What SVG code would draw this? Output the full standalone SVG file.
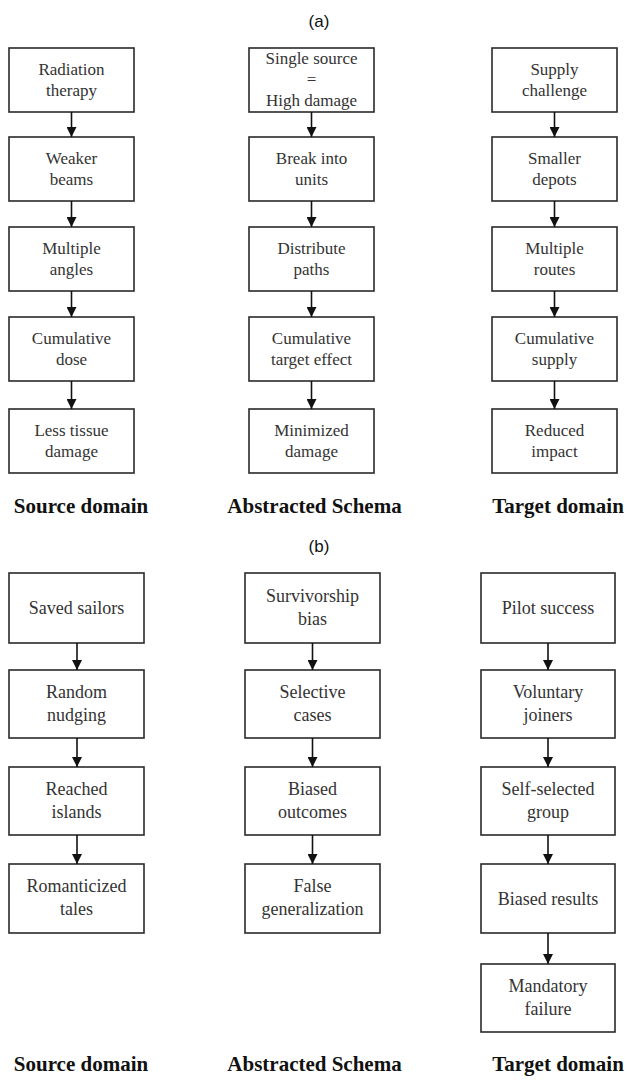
<svg xmlns="http://www.w3.org/2000/svg" width="630" height="1083" viewBox="0 0 630 1083">
<style>
.box{fill:#fff;stroke:#2a2a2a;stroke-width:1.6}
.t{font-family:"Liberation Serif","Times New Roman",serif;font-size:17px;fill:#333;text-anchor:middle}
.tb{font-family:"Liberation Serif","Times New Roman",serif;font-size:18px;fill:#333;text-anchor:middle}
.lab{font-family:"Liberation Serif","Times New Roman",serif;font-size:21px;font-weight:bold;fill:#111;text-anchor:middle}
.cap{font-family:"Liberation Sans",Arial,sans-serif;font-size:17px;fill:#111;text-anchor:middle}
.c{stroke:#111;stroke-width:1.6;fill:none;marker-end:url(#ah)}
</style>
<defs>
<marker id="ah" viewBox="0 0 10 10" refX="10" refY="5" markerWidth="10" markerHeight="10" orient="auto" markerUnits="userSpaceOnUse">
<path d="M0,0 L10,5 L0,10 z" fill="#111"/>
</marker>
</defs>
<rect width="630" height="1083" fill="#fff"/>
<text class="cap" x="319" y="27">(a)</text>
<text class="cap" x="319" y="552">(b)</text>

<g id="a-source">
<g id="a1"><rect class="box" x="9" y="48" width="125" height="64"/><text class="t" x="71.5" y="75">Radiation</text><text class="t" x="71.5" y="96">therapy</text></g>
<g id="a2"><rect class="box" x="9" y="137" width="125" height="64"/><text class="t" x="71.5" y="164">Weaker</text><text class="t" x="71.5" y="185">beams</text></g>
<g id="a3"><rect class="box" x="9" y="227" width="125" height="64"/><text class="t" x="71.5" y="254">Multiple</text><text class="t" x="71.5" y="275">angles</text></g>
<g id="a4"><rect class="box" x="9" y="317" width="125" height="64"/><text class="t" x="71.5" y="344">Cumulative</text><text class="t" x="71.5" y="365">dose</text></g>
<g id="a5"><rect class="box" x="9" y="409" width="125" height="64"/><text class="t" x="71.5" y="436">Less tissue</text><text class="t" x="71.5" y="457">damage</text></g>
</g>
<g id="a-schema">
<g id="a6"><rect class="box" x="249" y="48" width="125" height="64"/><text class="t" x="311.5" y="64">Single source</text><text class="t" x="311.5" y="85">=</text><text class="t" x="311.5" y="106">High damage</text></g>
<g id="a7"><rect class="box" x="249" y="137" width="125" height="64"/><text class="t" x="311.5" y="164">Break into</text><text class="t" x="311.5" y="185">units</text></g>
<g id="a8"><rect class="box" x="249" y="227" width="125" height="64"/><text class="t" x="311.5" y="254">Distribute</text><text class="t" x="311.5" y="275">paths</text></g>
<g id="a9"><rect class="box" x="249" y="317" width="125" height="64"/><text class="t" x="311.5" y="344">Cumulative</text><text class="t" x="311.5" y="365">target effect</text></g>
<g id="a10"><rect class="box" x="249" y="409" width="125" height="64"/><text class="t" x="311.5" y="436">Minimized</text><text class="t" x="311.5" y="457">damage</text></g>
</g>
<g id="a-target">
<g id="a11"><rect class="box" x="492" y="48" width="125" height="64"/><text class="t" x="554.5" y="75">Supply</text><text class="t" x="554.5" y="96">challenge</text></g>
<g id="a12"><rect class="box" x="492" y="137" width="125" height="64"/><text class="t" x="554.5" y="164">Smaller</text><text class="t" x="554.5" y="185">depots</text></g>
<g id="a13"><rect class="box" x="492" y="227" width="125" height="64"/><text class="t" x="554.5" y="254">Multiple</text><text class="t" x="554.5" y="275">routes</text></g>
<g id="a14"><rect class="box" x="492" y="317" width="125" height="64"/><text class="t" x="554.5" y="344">Cumulative</text><text class="t" x="554.5" y="365">supply</text></g>
<g id="a15"><rect class="box" x="492" y="409" width="125" height="64"/><text class="t" x="554.5" y="436">Reduced</text><text class="t" x="554.5" y="457">impact</text></g>
</g>
<g id="a-labels">
<text class="lab" x="81" y="513">Source domain</text>
<text class="lab" x="314.5" y="513">Abstracted Schema</text>
<text class="lab" x="558" y="513">Target domain</text>
</g>

<g id="b-source">
<g id="b1"><rect class="box" x="9" y="573" width="135" height="70"/><text class="tb" x="76.5" y="614">Saved sailors</text></g>
<g id="b2"><rect class="box" x="9" y="670" width="135" height="68"/><text class="tb" x="76.5" y="698">Random</text><text class="tb" x="76.5" y="721">nudging</text></g>
<g id="b3"><rect class="box" x="9" y="767" width="135" height="68"/><text class="tb" x="76.5" y="795">Reached</text><text class="tb" x="76.5" y="818">islands</text></g>
<g id="b4"><rect class="box" x="9" y="864" width="135" height="69"/><text class="tb" x="76.5" y="892">Romanticized</text><text class="tb" x="76.5" y="915">tales</text></g>
</g>
<g id="b-schema">
<g id="b5"><rect class="box" x="245" y="573" width="135" height="70"/><text class="tb" x="312.5" y="602">Survivorship</text><text class="tb" x="312.5" y="625">bias</text></g>
<g id="b6"><rect class="box" x="245" y="670" width="135" height="68"/><text class="tb" x="312.5" y="698">Selective</text><text class="tb" x="312.5" y="721">cases</text></g>
<g id="b7"><rect class="box" x="245" y="767" width="135" height="68"/><text class="tb" x="312.5" y="795">Biased</text><text class="tb" x="312.5" y="818">outcomes</text></g>
<g id="b8"><rect class="box" x="245" y="864" width="135" height="69"/><text class="tb" x="312.5" y="892">False</text><text class="tb" x="312.5" y="915">generalization</text></g>
</g>
<g id="b-target">
<g id="b9"><rect class="box" x="481" y="573" width="134" height="70"/><text class="tb" x="548" y="614">Pilot success</text></g>
<g id="b10"><rect class="box" x="481" y="670" width="134" height="68"/><text class="tb" x="548" y="698">Voluntary</text><text class="tb" x="548" y="721">joiners</text></g>
<g id="b11"><rect class="box" x="481" y="767" width="134" height="68"/><text class="tb" x="548" y="795">Self-selected</text><text class="tb" x="548" y="818">group</text></g>
<g id="b12"><rect class="box" x="481" y="864" width="134" height="69"/><text class="tb" x="548" y="905">Biased results</text></g>
<g id="b13"><rect class="box" x="481" y="964" width="134" height="68"/><text class="tb" x="548" y="992">Mandatory</text><text class="tb" x="548" y="1015">failure</text></g>
</g>
<g id="b-labels">
<text class="lab" x="81" y="1071">Source domain</text>
<text class="lab" x="314.5" y="1071">Abstracted Schema</text>
<text class="lab" x="558" y="1071">Target domain</text>
</g>

<g id="connectors">
<line class="c" x1="71.5" y1="112" x2="71.5" y2="137"/>
<line class="c" x1="71.5" y1="201" x2="71.5" y2="227"/>
<line class="c" x1="71.5" y1="291" x2="71.5" y2="317"/>
<line class="c" x1="71.5" y1="381" x2="71.5" y2="409"/>
<line class="c" x1="311.5" y1="112" x2="311.5" y2="137"/>
<line class="c" x1="311.5" y1="201" x2="311.5" y2="227"/>
<line class="c" x1="311.5" y1="291" x2="311.5" y2="317"/>
<line class="c" x1="311.5" y1="381" x2="311.5" y2="409"/>
<line class="c" x1="554.5" y1="112" x2="554.5" y2="137"/>
<line class="c" x1="554.5" y1="201" x2="554.5" y2="227"/>
<line class="c" x1="554.5" y1="291" x2="554.5" y2="317"/>
<line class="c" x1="554.5" y1="381" x2="554.5" y2="409"/>
<line class="c" x1="77" y1="643" x2="77" y2="670"/>
<line class="c" x1="77" y1="738" x2="77" y2="767"/>
<line class="c" x1="77" y1="835" x2="77" y2="864"/>
<line class="c" x1="312.5" y1="643" x2="312.5" y2="670"/>
<line class="c" x1="312.5" y1="738" x2="312.5" y2="767"/>
<line class="c" x1="312.5" y1="835" x2="312.5" y2="864"/>
<line class="c" x1="548" y1="643" x2="548" y2="670"/>
<line class="c" x1="548" y1="738" x2="548" y2="767"/>
<line class="c" x1="548" y1="835" x2="548" y2="864"/>
<line class="c" x1="548" y1="933" x2="548" y2="964"/>
</g>
</svg>
